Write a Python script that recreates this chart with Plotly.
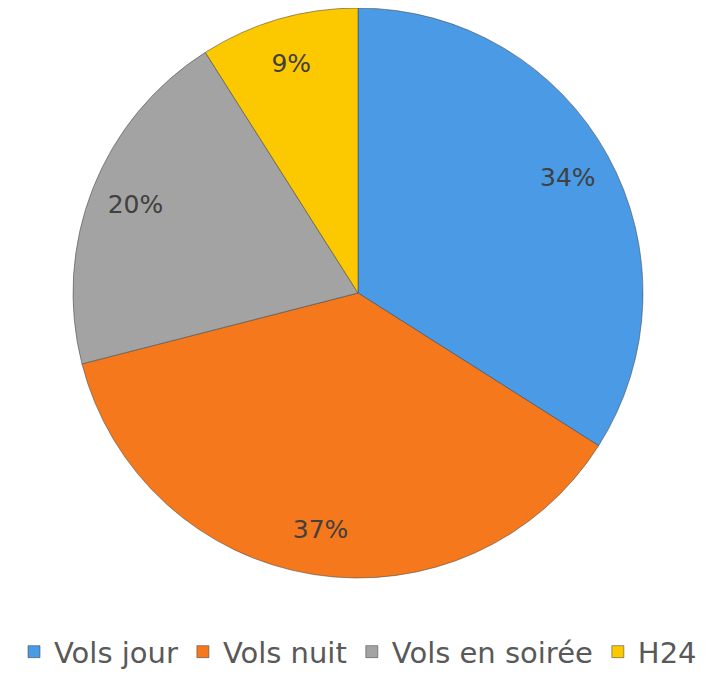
import plotly.graph_objects as go

labels = ["Vols jour", "Vols nuit", "Vols en soirée", "H24"]
values = [34, 37, 20, 9]
colors = ["#4A9AE6", "#F5781C", "#A3A3A3", "#FCC800"]

# Main pie with legend
pie = go.Pie(
    labels=labels,
    values=values,
    sort=False,
    direction="clockwise",
    rotation=0,
    marker=dict(colors=colors, line=dict(color="rgba(70,70,70,0.55)", width=1)),
    textinfo="none",
    hoverinfo="label+percent",
    domain=dict(x=[0, 1], y=[0, 1]),
)

# Transparent ring overlay to place the percentage labels near the rim
ring = go.Pie(
    labels=labels,
    values=values,
    sort=False,
    direction="clockwise",
    rotation=0,
    hole=0.68,
    marker=dict(colors=["rgba(0,0,0,0)"] * len(values), line=dict(width=0)),
    texttemplate="%{percent:.0%}",
    textposition="inside",
    insidetextorientation="horizontal",
    textfont=dict(family="DejaVu Sans", size=25, color="#404040"),
    hoverinfo="skip",
    showlegend=False,
    domain=dict(x=[0, 1], y=[0, 1]),
)

fig = go.Figure([pie, ring])

fig.update_layout(
    width=720, height=696,
    margin=dict(l=0, r=20, t=0, b=126),
    paper_bgcolor="white",
    plot_bgcolor="white",
    showlegend=True,
    legend=dict(
        orientation="h",
        x=0.5, xanchor="center",
        yref="container",
        y=0.075, yanchor="middle",
        font=dict(family="DejaVu Sans", size=29, color="#595959"),
        itemwidth=30,
        traceorder="normal",
    ),
)

fig.write_html("out.html")
